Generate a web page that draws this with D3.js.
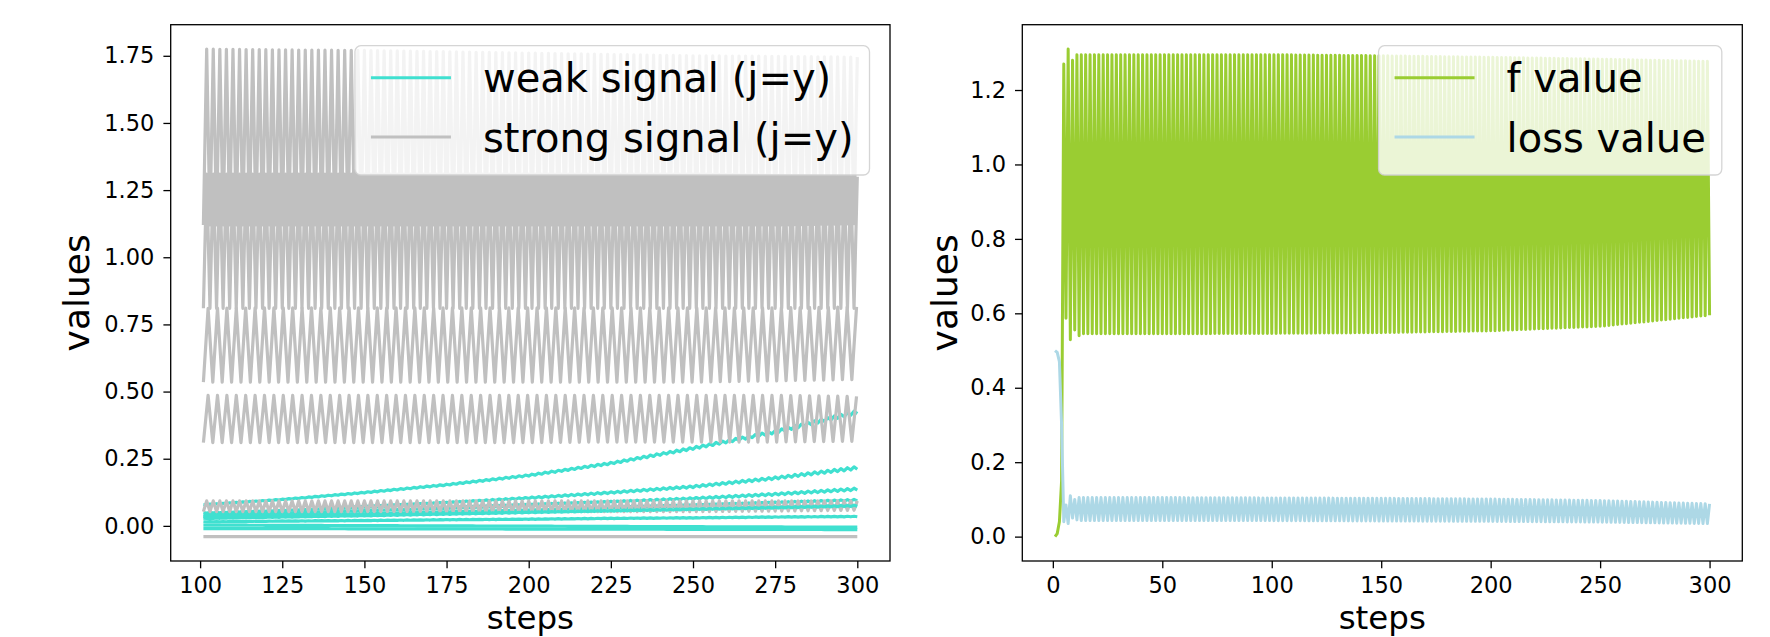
<!DOCTYPE html>
<html>
<head>
<meta charset="utf-8">
<script src="https://cdn.jsdelivr.net/npm/d3@7"></script>
<style>
  body { margin: 0; background: #fff; }
  text { font-family: "DejaVu Sans", sans-serif; }
</style>
</head>
<body>
<svg id="chart"></svg>
<script>
// ---- left panel: weak vs strong signal, steps 101..300 ----
const leftRange = [101, 300];
const leftSamples = [101, 125, 150, 175, 200, 225, 250, 275, 300];

// weak signal (j=y) lines, trend read at leftSamples
const weakLines = [
  [0.078, 0.098, 0.124, 0.153, 0.188, 0.233, 0.289, 0.350, 0.424],
  [0.048, 0.058, 0.071, 0.086, 0.104, 0.124, 0.146, 0.178, 0.216],
  [0.040, 0.048, 0.058, 0.067, 0.078, 0.089, 0.102, 0.118, 0.137],
  [0.034, 0.040, 0.046, 0.053, 0.060, 0.068, 0.076, 0.086, 0.096],
  [0.028, 0.033, 0.038, 0.044, 0.050, 0.056, 0.062, 0.068, 0.075],
  [0.015, 0.018, 0.020, 0.023, 0.025, 0.028, 0.030, 0.033, 0.035],
  [0.003, 0.002, 0.001, 0.000, -0.001, -0.002, -0.003, -0.004, -0.005],
  [-0.010, -0.010, -0.011, -0.011, -0.012, -0.012, -0.013, -0.013, -0.014]
];
// size of the small step-to-step wobble on each weak line
const weakWobble = [0.006, 0.005, 0.004, 0.003, 0.002, 0.001, 0, 0];

// strong signal (j=y) lines: upper and lower swing levels read at leftSamples
const strongHigh = [
  [1.775, 1.772, 1.770, 1.765, 1.760, 1.755, 1.750, 1.748, 1.745],
  [1.310, 1.310, 1.310, 1.310, 1.310, 1.310, 1.310, 1.305, 1.300],
  [0.810, 0.812, 0.812, 0.812, 0.812, 0.812, 0.812, 0.812, 0.815],
  [0.486, 0.486, 0.486, 0.486, 0.486, 0.486, 0.486, 0.486, 0.482],
  [0.093, 0.093, 0.093, 0.093, 0.093, 0.093, 0.093, 0.093, 0.093],
  [-0.040, -0.040, -0.040, -0.040, -0.040, -0.040, -0.040, -0.040, -0.040]
];
const strongLow = [
  [1.120, 1.120, 1.120, 1.120, 1.120, 1.120, 1.120, 1.120, 1.125],
  [0.810, 0.810, 0.810, 0.810, 0.810, 0.810, 0.810, 0.810, 0.810],
  [0.535, 0.535, 0.535, 0.535, 0.535, 0.535, 0.535, 0.540, 0.545],
  [0.310, 0.310, 0.310, 0.310, 0.310, 0.312, 0.312, 0.312, 0.315],
  [0.053, 0.053, 0.053, 0.053, 0.053, 0.053, 0.053, 0.055, 0.058],
  [-0.040, -0.040, -0.040, -0.040, -0.040, -0.040, -0.040, -0.040, -0.040]
];
// steps for one full swing of each strong line
const strongCycle = [2, 2, 2.86, 2.86, 2, 2];

const leftXTicks = [100, 125, 150, 175, 200, 225, 250, 275, 300];
const leftYTicks = [0, 0.25, 0.5, 0.75, 1.0, 1.25, 1.5, 1.75];

// ---- right panel: f value and loss value, steps 1..300 ----
const rightRange = [1, 300];
// first 12 steps read one by one
const fStart = [0.0, 0.008, 0.04, 0.15, 1.27, 0.587, 1.31, 0.529, 1.28, 0.555, 1.295, 0.54];
const lossStart = [0.50, 0.495, 0.47, 0.30, 0.04, 0.085, 0.035, 0.11, 0.05, 0.10, 0.045, 0.105];
// afterwards the series swing every step between these levels
const rightSamples = [13, 50, 100, 150, 200, 250, 300];
const fHigh = [1.295, 1.295, 1.295, 1.292, 1.288, 1.283, 1.277];
const fLow = [0.545, 0.545, 0.546, 0.548, 0.553, 0.565, 0.595];
const lossHigh = [0.105, 0.105, 0.104, 0.103, 0.101, 0.097, 0.088];
const lossLow = [0.043, 0.043, 0.043, 0.042, 0.041, 0.039, 0.035];

const rightXTicks = [0, 50, 100, 150, 200, 250, 300];
const rightYTicks = [0, 0.2, 0.4, 0.6, 0.8, 1.0, 1.2];

const width = 1770, height = 637;
const svg = d3.select('#chart').attr('width', width).attr('height', height);

const panels = [
  { left: 170.7, right: 890, top: 24.7, bottom: 561 },
  { left: 1022.3, right: 1742.3, top: 24.7, bottom: 561 }
];

// matplotlib style 5% padding
function padded(lo, hi) {
  const p = (hi - lo) * 0.05;
  return [lo - p, hi + p];
}

// level at a step from readings at sample steps
function reader(samples, values) {
  return d3.scaleLinear().domain(samples).range(values).clamp(true);
}

function strongSeries(i) {
  const hi = reader(leftSamples, strongHigh[i]);
  const lo = reader(leftSamples, strongLow[i]);
  const half = strongCycle[i] / 2;
  const pts = [];
  let k = 0;
  for (let s = leftRange[0]; s <= leftRange[1] + 1e-9; s += half, k++) {
    pts.push([s, k % 2 === 0 ? lo(s) : hi(s)]);
  }
  return pts;
}

function weakSeries(i) {
  const trend = reader(leftSamples, weakLines[i]);
  const pts = [];
  for (let s = leftRange[0]; s <= leftRange[1]; s++) {
    const w = weakWobble[i] * trend(s) / trend(leftRange[1]);
    pts.push([s, trend(s) + ((s % 2) ? w : -w)]);
  }
  return pts;
}

function swingSeries(start, highVals, lowVals, hiOnOdd) {
  const hi = reader(rightSamples, highVals);
  const lo = reader(rightSamples, lowVals);
  const pts = start.map((v, i) => [i + 1, v]);
  for (let s = start.length + 1; s <= rightRange[1]; s++) {
    const odd = s % 2 === 1;
    pts.push([s, (odd === hiOnOdd) ? hi(s) : lo(s)]);
  }
  return pts;
}

function drawPanel(p, xDomain, yDomain, xTicks, yTicks, yFmt) {
  const g = svg.append('g');
  const x = d3.scaleLinear().domain(xDomain).range([p.left, p.right]);
  const y = d3.scaleLinear().domain(yDomain).range([p.bottom, p.top]);

  const clipId = 'clip' + Math.round(p.left);
  svg.append('clipPath').attr('id', clipId)
    .append('rect').attr('x', p.left).attr('y', p.top)
    .attr('width', p.right - p.left).attr('height', p.bottom - p.top);

  const plot = g.append('g').attr('clip-path', `url(#${clipId})`);

  // axes
  g.append('g')
    .attr('transform', `translate(0,${p.bottom})`)
    .call(d3.axisBottom(x).tickValues(xTicks).tickSize(7.3).tickPadding(9).tickFormat(d3.format('d')))
    .call(a => a.select('.domain').remove())
    .call(a => a.selectAll('line').attr('stroke', '#000').attr('stroke-width', 1.3))
    .call(a => a.selectAll('text').attr('font-size', 22.5).attr('font-family', 'DejaVu Sans').attr('fill', '#000'));

  g.append('g')
    .attr('transform', `translate(${p.left},0)`)
    .call(d3.axisLeft(y).tickValues(yTicks).tickSize(7.3).tickPadding(9).tickFormat(d3.format(yFmt)))
    .call(a => a.select('.domain').remove())
    .call(a => a.selectAll('line').attr('stroke', '#000').attr('stroke-width', 1.3))
    .call(a => a.selectAll('text').attr('font-size', 22.5).attr('font-family', 'DejaVu Sans').attr('fill', '#000'));

  return { g, plot, x, y };
}

function addFrame(g, p) {
  g.append('rect')
    .attr('x', p.left).attr('y', p.top)
    .attr('width', p.right - p.left).attr('height', p.bottom - p.top)
    .attr('fill', 'none').attr('stroke', '#000').attr('stroke-width', 1.3);
}

function addLabels(p, ylabX) {
  svg.append('text')
    .attr('x', (p.left + p.right) / 2).attr('y', 629.2)
    .attr('text-anchor', 'middle').attr('font-size', 32.5)
    .text('steps');
  svg.append('text')
    .attr('transform', `translate(${ylabX},${(p.top + p.bottom) / 2}) rotate(-90)`)
    .attr('text-anchor', 'middle').attr('font-size', 36)
    .text('values');
}

function addLegend(p, items) {
  const fs = 40;
  const lg = svg.append('g');
  const box = lg.append('rect');
  const texts = items.map(it => lg.append('text').attr('font-size', fs).text(it.label));
  const tw = d3.max(texts, t => t.node().getComputedTextLength());
  const w = 128 + tw + 16;
  const h = 129.3;
  const left = p.right - 20.5 - w;
  const top = p.top + 21;
  box.attr('x', left).attr('y', top).attr('width', w).attr('height', h)
    .attr('rx', 6).attr('ry', 6)
    .attr('fill', '#fff').attr('fill-opacity', 0.8)
    .attr('stroke', '#d0d0d0').attr('stroke-opacity', 0.9).attr('stroke-width', 1.3);
  items.forEach((it, i) => {
    const cy = top + 32 + i * 59.3;
    lg.append('line')
      .attr('x1', left + 16).attr('x2', left + 96)
      .attr('y1', cy).attr('y2', cy)
      .attr('stroke', it.color).attr('stroke-width', it.width);
    texts[i].attr('x', left + 128).attr('y', cy + 14.5);
  });
}

// ---- left panel ----
const P0 = panels[0];
const allLeft = weakLines.flat().concat(strongHigh.flat(), strongLow.flat());
const L = drawPanel(P0, padded(leftRange[0], leftRange[1]),
  padded(d3.min(allLeft), d3.max(allLeft)), leftXTicks, leftYTicks, '.2f');

const lineL = d3.line().x(d => L.x(d[0])).y(d => L.y(d[1]));
const nPairs = Math.max(weakLines.length, strongHigh.length);
for (let i = 0; i < nPairs; i++) {
  if (i < strongHigh.length) {
    L.plot.append('path').datum(strongSeries(i)).attr('d', lineL)
      .attr('fill', 'none').attr('stroke', 'silver').attr('stroke-width', 3.2)
      .attr('stroke-linejoin', 'round');
  }
  if (i < weakLines.length) {
    L.plot.append('path').datum(weakSeries(i)).attr('d', lineL)
      .attr('fill', 'none').attr('stroke', 'turquoise').attr('stroke-width', 3.2)
      .attr('stroke-linejoin', 'round');
  }
}
addFrame(L.g, P0);
addLabels(P0, 89);
addLegend(P0, [
  { label: 'weak signal (j=y)', color: 'turquoise', width: 3 },
  { label: 'strong signal (j=y)', color: 'silver', width: 3 }
]);

// ---- right panel ----
const P1 = panels[1];
const fSeries = swingSeries(fStart, fHigh, fLow, true);
const lossSeries = swingSeries(lossStart, lossHigh, lossLow, false);
const allRight = fSeries.concat(lossSeries).map(d => d[1]);
const R = drawPanel(P1, padded(rightRange[0], rightRange[1]),
  padded(d3.min(allRight), d3.max(allRight)), rightXTicks, rightYTicks, '.1f');

const lineR = d3.line().x(d => R.x(d[0])).y(d => R.y(d[1]));
R.plot.append('path').datum(fSeries).attr('d', lineR)
  .attr('fill', 'none').attr('stroke', 'yellowgreen').attr('stroke-width', 3)
  .attr('stroke-linejoin', 'round');
R.plot.append('path').datum(lossSeries).attr('d', lineR)
  .attr('fill', 'none').attr('stroke', 'lightblue').attr('stroke-width', 3)
  .attr('stroke-linejoin', 'round');
addFrame(R.g, P1);
addLabels(P1, 957);
addLegend(P1, [
  { label: 'f value', color: 'yellowgreen', width: 3 },
  { label: 'loss value', color: 'lightblue', width: 3 }
]);
</script>
</body>
</html>
